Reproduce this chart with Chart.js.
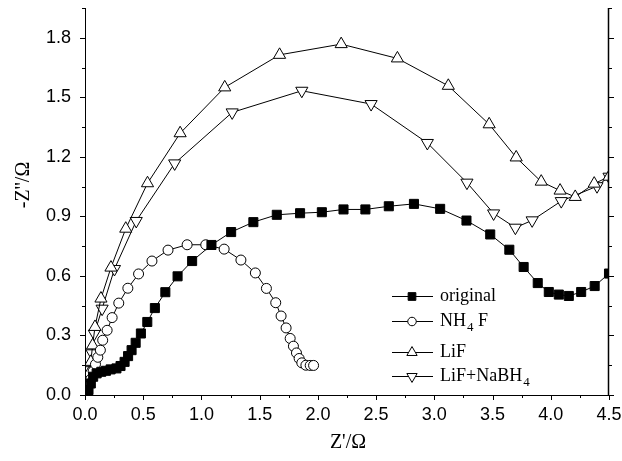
<!DOCTYPE html>
<html>
<head>
<meta charset="utf-8">
<script src="https://cdn.jsdelivr.net/npm/chart.js@4/dist/chart.umd.min.js"></script>
<style>
  body { margin: 0; background: #fff; }
  canvas { display: block; }
</style>
</head>
<body>
<canvas id="nyquist" width="622" height="461"></canvas>
<script>
// valores (Z' en Ohm, -Z'' en Ohm)
const originalX = [0.0, 0.01, 0.03, 0.05, 0.07, 0.10, 0.14, 0.18, 0.22, 0.27, 0.305, 0.34, 0.37, 0.40, 0.435, 0.48, 0.535, 0.60, 0.69, 0.795, 0.92, 1.086, 1.255, 1.446, 1.647, 1.847, 2.034, 2.22, 2.408, 2.609, 2.825, 3.05, 3.276, 3.48, 3.644, 3.767, 3.888, 3.983, 4.069, 4.155, 4.261, 4.377, 4.5];
const originalY = [0.0, 0.01, 0.025, 0.058, 0.092, 0.109, 0.117, 0.122, 0.129, 0.134, 0.146, 0.167, 0.196, 0.226, 0.263, 0.31, 0.368, 0.438, 0.518, 0.598, 0.675, 0.756, 0.821, 0.871, 0.908, 0.916, 0.921, 0.935, 0.935, 0.951, 0.963, 0.938, 0.879, 0.809, 0.732, 0.645, 0.564, 0.519, 0.506, 0.499, 0.519, 0.549, 0.612];

const nh4fX = [0.0, 0.01, 0.02, 0.035, 0.05, 0.07, 0.09, 0.11, 0.132, 0.152, 0.19, 0.233, 0.29, 0.368, 0.46, 0.575, 0.713, 0.877, 1.037, 1.195, 1.339, 1.463, 1.558, 1.638, 1.684, 1.727, 1.762, 1.79, 1.816, 1.839, 1.862, 1.897, 1.934, 1.963];
const nh4fY = [0.0, 0.015, 0.03, 0.05, 0.08, 0.12, 0.155, 0.19, 0.226, 0.276, 0.326, 0.39, 0.463, 0.538, 0.61, 0.675, 0.73, 0.757, 0.757, 0.735, 0.68, 0.615, 0.537, 0.465, 0.398, 0.338, 0.285, 0.246, 0.212, 0.184, 0.162, 0.15, 0.149, 0.149];

const lifX = [0.0, 0.01, 0.025, 0.035, 0.05, 0.065, 0.086, 0.137, 0.223, 0.35, 0.537, 0.817, 1.20, 1.671, 2.20, 2.683, 3.12, 3.471, 3.703, 3.918, 4.08, 4.21, 4.373, 4.5];
const lifY = [0.0, 0.02, 0.06, 0.11, 0.167, 0.25, 0.343, 0.486, 0.642, 0.838, 1.067, 1.319, 1.55, 1.714, 1.768, 1.696, 1.558, 1.364, 1.197, 1.075, 1.03, 0.998, 1.065, 1.10];

const lifNaX = [0.0, 0.01, 0.025, 0.04, 0.06, 0.08, 0.147, 0.253, 0.44, 0.77, 1.264, 1.862, 2.457, 2.94, 3.28, 3.509, 3.696, 3.84, 4.09, 4.397, 4.5];
const lifNaY = [0.0, 0.04, 0.08, 0.125, 0.21, 0.309, 0.435, 0.635, 0.877, 1.167, 1.424, 1.533, 1.466, 1.27, 1.07, 0.915, 0.843, 0.88, 0.977, 1.052, 1.10];

const xTicks = [0, 0.5, 1.0, 1.5, 2.0, 2.5, 3.0, 3.5, 4.0, 4.5];
const yTicks = [0, 0.3, 0.6, 0.9, 1.2, 1.5, 1.8];

// nombre, subíndice, estilo de punto
const series = [
    { x: originalX, y: originalY, name: 'original', sub: null, style: 'rect', radius: 6.4, rot: 0, fill: '#000' },
    { x: nh4fX, y: nh4fY, name: 'NH', sub: '4', tail: ' F', style: 'circle', radius: 5, rot: 0, fill: '#fff' },
    { x: lifX, y: lifY, name: 'LiF', sub: null, style: 'triangle', radius: 7, rot: 0, fill: '#fff' },
    { x: lifNaX, y: lifNaY, name: 'LiF+NaBH', sub: '4', style: 'triangle', radius: 7, rot: 180, fill: '#fff' },
];

function toPoints(xs, ys) {
    return xs.map((v, i) => ({ x: v, y: ys[i] }));
}

const datasets = series.map(s => ({
    label: s.name + (s.sub || '') + (s.tail || ''),
    data: toPoints(s.x, s.y),
    showLine: true,
    borderColor: '#000',
    borderWidth: 1,
    pointStyle: s.style,
    pointRadius: s.radius,
    pointRotation: s.rot,
    pointBackgroundColor: s.fill,
    pointBorderColor: '#000',
    pointBorderWidth: 1,
    tension: 0,
}));

// ejes, marcas menores, títulos y leyenda
const frame = {
    id: 'frame',
    afterDraw(chart) {
        const ctx = chart.ctx;
        const a = chart.chartArea;
        const xs = chart.scales.x, ys = chart.scales.y;
        ctx.save();
        ctx.strokeStyle = '#000';
        ctx.lineWidth = 1;
        ctx.beginPath();
        ctx.moveTo(a.left + 0.5, a.top);
        ctx.lineTo(a.left + 0.5, a.bottom + 0.5);
        ctx.lineTo(a.right, a.bottom + 0.5);
        ctx.stroke();
        ctx.lineWidth = 1.5;
        ctx.beginPath();
        ctx.moveTo(a.right - 0.5, a.top);
        ctx.lineTo(a.right - 0.5, a.bottom + 0.5);
        ctx.stroke();

        ctx.lineWidth = 1;
        ctx.beginPath();
        for (let v = 0; v <= 4.5001; v += 0.25) {
            const px = Math.round(xs.getPixelForValue(v)) + 0.5;
            const len = Math.abs(v / 0.5 - Math.round(v / 0.5)) < 1e-6 ? 5 : 3;
            ctx.moveTo(px, a.bottom);
            ctx.lineTo(px, a.bottom + len);
        }
        for (let v = 0; v <= 1.95; v += 0.15) {
            const py = Math.round(ys.getPixelForValue(v)) + 0.5;
            const len = Math.abs(v / 0.3 - Math.round(v / 0.3)) < 1e-6 ? 5 : 3;
            ctx.moveTo(a.left, py);
            ctx.lineTo(a.left - len, py);
            ctx.moveTo(a.right, py);
            ctx.lineTo(a.right + len, py);
        }
        ctx.stroke();

        // títulos de los ejes
        ctx.fillStyle = '#000';
        ctx.font = '20px "Liberation Serif"';
        ctx.textAlign = 'center';
        ctx.textBaseline = 'middle';
        ctx.fillText("Z'/Ω", 348, 443);
        ctx.save();
        ctx.translate(24, 185);
        ctx.rotate(-Math.PI / 2);
        ctx.fillText("-Z''/Ω", 0, 0);
        ctx.restore();

        // leyenda
        const rows = [296, 321, 352, 376];
        series.forEach((s, i) => {
            const y = rows[i];
            ctx.strokeStyle = '#000';
            ctx.lineWidth = 1;
            ctx.beginPath();
            ctx.moveTo(392, y + 0.5);
            ctx.lineTo(433, y + 0.5);
            ctx.stroke();
            ctx.fillStyle = s.fill;
            Chart.helpers.drawPoint(ctx, {
                pointStyle: s.style,
                radius: s.radius * 0.85,
                rotation: s.rot,
                borderWidth: 1,
            }, 412, y + 0.5);
            ctx.fillStyle = '#000';
            ctx.textAlign = 'left';
            ctx.textBaseline = 'middle';
            ctx.font = '18px "Liberation Serif"';
            let tx = 440;
            ctx.fillText(s.name, tx, y);
            tx += ctx.measureText(s.name).width;
            if (s.sub) {
                ctx.font = '13px "Liberation Serif"';
                ctx.fillText(s.sub, tx + 1, y + 7);
                tx += ctx.measureText(s.sub).width + 1;
            }
            if (s.tail) {
                ctx.font = '18px "Liberation Serif"';
                ctx.fillText(s.tail, tx, y);
            }
        });
        ctx.restore();
    }
};

new Chart(document.getElementById('nyquist'), {
    type: 'scatter',
    data: { datasets: datasets },
    options: {
        responsive: false,
        animation: false,
        layout: { padding: { top: 6, right: 13, left: 0, bottom: 0 } },
        plugins: {
            legend: { display: false },
            tooltip: { enabled: false },
        },
        scales: {
            x: {
                type: 'linear',
                min: 0,
                max: 4.5,
                grid: { display: false, drawTicks: false },
                border: { display: false },
                afterBuildTicks: scale => { scale.ticks = xTicks.map(v => ({ value: v })); },
                afterFit: scale => {
                    scale.height = 66;
                    scale.paddingLeft = 0;
                    scale.paddingRight = 0;
                },
                ticks: {
                    padding: 9,
                    color: '#000',
                    font: { family: 'Liberation Sans', size: 18 },
                    callback: v => v.toFixed(1),
                },
            },
            y: {
                type: 'linear',
                min: 0,
                max: 1.95,
                grid: { display: false, drawTicks: false },
                border: { display: false },
                afterBuildTicks: scale => { scale.ticks = yTicks.map(v => ({ value: v })); },
                afterFit: scale => {
                    scale.width = 85;
                    scale.paddingTop = 0;
                    scale.paddingBottom = 0;
                },
                ticks: {
                    padding: 14,
                    color: '#000',
                    font: { family: 'Liberation Sans', size: 18 },
                    callback: v => v.toFixed(1),
                },
            },
        },
    },
    plugins: [frame],
});
</script>
</body>
</html>
